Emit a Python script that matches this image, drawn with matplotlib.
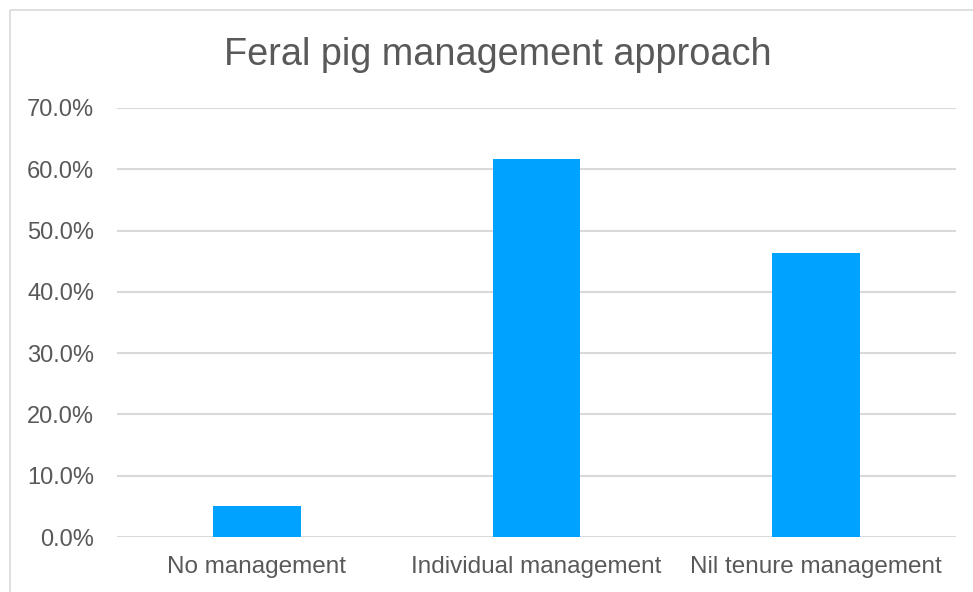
import matplotlib.pyplot as plt
from matplotlib.lines import Line2D
from matplotlib.ticker import PercentFormatter

## Data
categories = ['No management', 'Individual management', 'Nil tenure management']
shares = [0.0507, 0.617, 0.463]
yticks = [0.0, 0.1, 0.2, 0.3, 0.4, 0.5, 0.6, 0.7]

plt.rcParams['font.family'] = ['Liberation Sans', 'DejaVu Sans']
text_col = '#595959'

fig = plt.figure(figsize=(9.73, 5.92), dpi=100)
## only the left and top edges of the chart frame are visible in the crop
fig.lines.append(Line2D([10/973, 10/973, 1], [0, 1 - 10/592, 1 - 10/592],
                        transform=fig.transFigure, color='#d9d9d9', linewidth=1.2))

ax = fig.add_axes([117/973, 1 - 537/592, (956 - 117)/973, (537 - 108)/592])
ax.bar(range(len(categories)), shares, width=0.314, color='#00a2ff', zorder=3)

ax.set_ylim(0, 0.7)
ax.set_xlim(-0.5, len(categories) - 0.5)
ax.set_yticks(yticks)
ax.yaxis.set_major_formatter(PercentFormatter(1.0, decimals=1))
ax.set_xticks(range(len(categories)))
ax.set_xticklabels(categories)
ax.grid(axis='y', color='#d9d9d9', linewidth=1.5, zorder=0)
for s in ax.spines.values():
    s.set_visible(False)
ax.tick_params(length=0, colors=text_col)
ax.tick_params(axis='x', labelsize=17.5, pad=14)
ax.tick_params(axis='y', labelsize=17, pad=16.5)

fig.text(497.5/973, 1 - 65/592, 'Feral pig management approach', ha='center', va='baseline',
         fontsize=27.3, color=text_col)

fig.savefig('out.png', dpi=100)
